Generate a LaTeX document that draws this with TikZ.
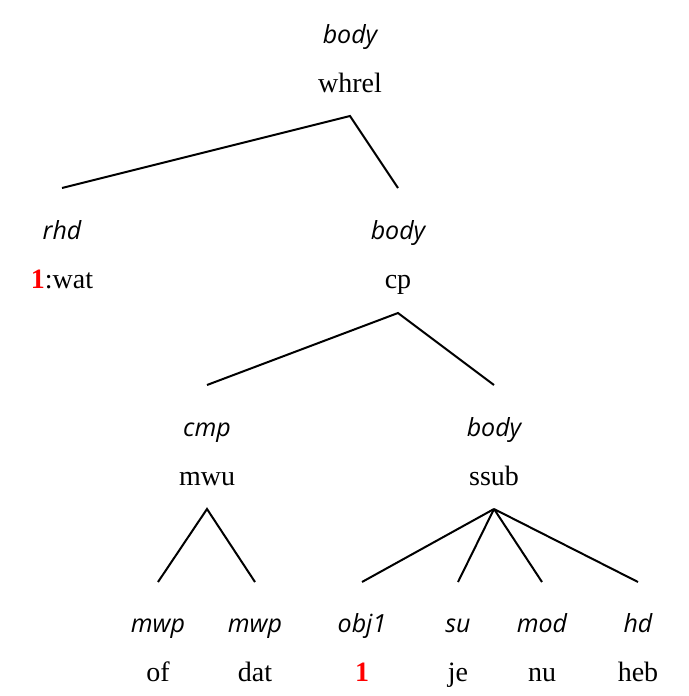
\documentclass[tikz,border=0pt]{standalone}
\usepackage{fontspec}
\setmainfont{Liberation Serif}
\newfontfamily\labfont{Open Sans}
\begin{document}
\begin{tikzpicture}[x=1pt,y=-1pt,
  lab/.style={anchor=base,inner sep=0pt,font=\labfont\itshape\fontsize{25}{27}\selectfont},
  word/.style={anchor=base,inner sep=0pt,font=\fontsize{28}{30}\selectfont},
  edge/.style={line width=2pt}]
\definecolor{hl}{RGB}{255,0,0}
\useasboundingbox (0,0) rectangle (688,696);
% level 0
\node[lab] (l-whrel) at (350,43) {body};
\node[word] (w-whrel) at (350,92) {whrel};
\coordinate (b-whrel) at (350,116);
% level 1
\node[lab] (l-rhd) at (62,239) {rhd};
\node[word] (w-rhd) at (62,288) {\textcolor{hl}{\textbf{1}}:wat};
\coordinate (t-rhd) at (62,188);
\node[lab] (l-cp) at (398,239) {body};
\node[word] (w-cp) at (398,288) {cp};
\coordinate (t-cp) at (398,188);
\coordinate (b-cp) at (398,313);
% level 2
\node[lab] (l-mwu) at (207,436) {cmp};
\node[word] (w-mwu) at (207,485) {mwu};
\coordinate (t-mwu) at (207,385);
\coordinate (b-mwu) at (207,509);
\node[lab] (l-ssub) at (494,436) {body};
\node[word] (w-ssub) at (494,485) {ssub};
\coordinate (t-ssub) at (494,385);
\coordinate (b-ssub) at (494,509);
% level 3
\node[lab] (l-of) at (158,632) {mwp};
\node[word] (w-of) at (158,681) {of};
\coordinate (t-of) at (158,582);
\node[lab] (l-dat) at (255,632) {mwp};
\node[word] (w-dat) at (255,681) {dat};
\coordinate (t-dat) at (255,582);
\node[lab] (l-one) at (362,632) {obj1};
\node[word] (w-one) at (362,681) {\textcolor{hl}{\textbf{1}}};
\coordinate (t-one) at (362,582);
\node[lab] (l-je) at (458,632) {su};
\node[word] (w-je) at (458,681) {je};
\coordinate (t-je) at (458,582);
\node[lab] (l-nu) at (542,632) {mod};
\node[word] (w-nu) at (542,681) {nu};
\coordinate (t-nu) at (542,582);
\node[lab] (l-heb) at (638,632) {hd};
\node[word] (w-heb) at (638,681) {heb};
\coordinate (t-heb) at (638,582);
% edges
\draw[edge] (t-rhd) -- (b-whrel) -- (t-cp);
\draw[edge] (t-mwu) -- (b-cp) -- (t-ssub);
\draw[edge] (t-of) -- (b-mwu) -- (t-dat);
\draw[edge] (b-ssub) -- (t-one);
\draw[edge] (b-ssub) -- (t-je);
\draw[edge] (b-ssub) -- (t-nu);
\draw[edge] (b-ssub) -- (t-heb);
\end{tikzpicture}
\end{document}
